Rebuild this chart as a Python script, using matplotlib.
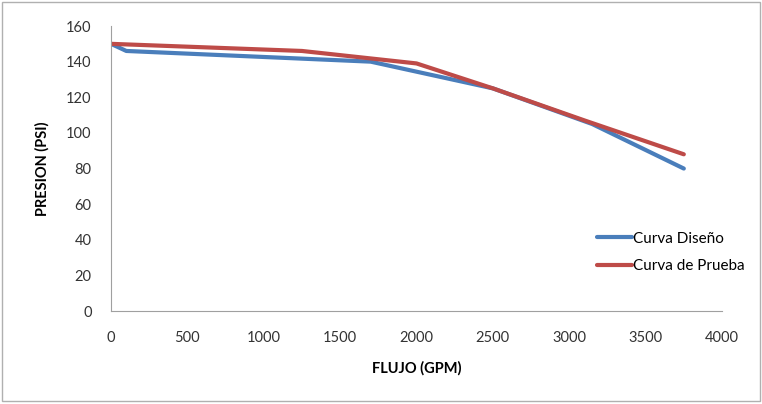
import matplotlib.pyplot as plt
from matplotlib.patches import Rectangle

plt.rcParams['font.family'] = ['Lato', 'DejaVu Sans']

# data
flujo_diseno = [0, 100, 1700, 2500, 3150, 3750]
presion_diseno = [150, 146, 140, 125, 105, 80]
flujo_prueba = [0, 1250, 2000, 2500, 3100, 3750]
presion_prueba = [150, 146, 139, 125, 107, 88]

fig = plt.figure(figsize=(7.62, 4.04), dpi=100)
ax = fig.add_axes([0.1457, 0.230, 0.8018, 0.7056])

ax.plot(flujo_diseno, presion_diseno, color='#4A7EBB', lw=3, label='Curva Diseño',
        solid_capstyle='round')
ax.plot(flujo_prueba, presion_prueba, color='#BE4B48', lw=3, label='Curva de Prueba',
        solid_capstyle='round')

ax.set_xlim(0, 4000)
ax.set_ylim(0, 160)
ax.set_xticks(range(0, 4001, 500))
ax.set_yticks(range(0, 161, 20))
for s in ['top', 'right']:
    ax.spines[s].set_visible(False)
for s in ['left', 'bottom']:
    ax.spines[s].set_color('#a0a0a0')
ax.tick_params(length=0, labelsize=10.5, colors='#333333')
ax.tick_params(axis='x', pad=14)
ax.tick_params(axis='y', pad=14)

ax.set_xlabel('FLUJO (GPM)', fontsize=10.5, fontweight='bold', labelpad=12)
ax.set_ylabel('PRESION (PSI)', fontsize=10.5, fontweight='bold', labelpad=12)

leg = fig.legend(loc='center left', bbox_to_anchor=(0.765, 0.375), frameon=False,
                 fontsize=11, handlelength=2.3, labelspacing=0.9, handletextpad=0.1)

fig.patches.append(Rectangle((0.003, 0.008), 0.994, 0.988, transform=fig.transFigure,
                             fill=False, edgecolor='#b0b0b0', lw=1))

fig.savefig('out.png', dpi=100)
